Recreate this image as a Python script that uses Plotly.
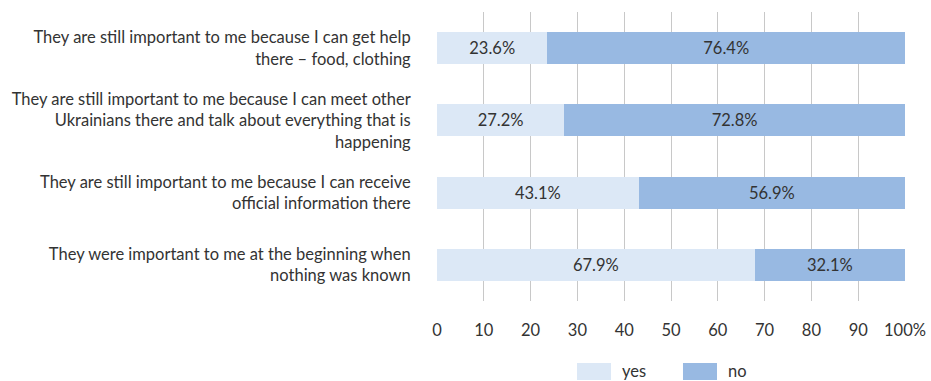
import plotly.graph_objects as go

# Survey statements (top to bottom) and the share answering yes / no
statements = [
    "They are still important to me because I can get help<br>there – food, clothing",
    "They are still important to me because I can meet other<br>Ukrainians there and talk about everything that is<br>happening",
    "They are still important to me because I can receive<br>official information there",
    "They were important to me at the beginning when<br>nothing was known",
]
yes_pct = [23.6, 27.2, 43.1, 67.9]
no_pct = [76.4, 72.8, 56.9, 32.1]

tick_vals = [0, 10, 20, 30, 40, 50, 60, 70, 80, 90, 100]
tick_text = ["0", "10", "20", "30", "40", "50", "60", "70", "80", "90", "100%"]

YES_COLOR = "#dce8f6"
NO_COLOR = "#98b9e2"
TEXT_COLOR = "#333333"
FONT = "Lato, 'Open Sans', sans-serif"
FSIZE = 16.5

fig = go.Figure()
series = [("yes", yes_pct, YES_COLOR), ("no", no_pct, NO_COLOR)]
for name, vals, color in series:
    fig.add_trace(go.Bar(
        name=name, y=statements, x=vals, orientation="h",
        marker=dict(color=color, line=dict(width=0)),
        text=[f"{v:.1f}%" for v in vals], textposition="inside",
        insidetextanchor="middle", textangle=0,
        textfont=dict(size=FSIZE, color=TEXT_COLOR, family=FONT),
        showlegend=False,
    ))

# Legend drawn as wide swatches with labels below the axis
legend_items = [
    (series[0][0], series[0][2], 0.2991, 0.3718),
    (series[1][0], series[1][2], 0.5256, 0.5983),
]
shapes = []
annotations = []
for name, color, x0, x1 in legend_items:
    shapes.append(dict(
        type="rect", xref="paper", yref="paper",
        x0=x0, x1=x1, y0=-0.2734, y1=-0.2145,
        fillcolor=color, line=dict(width=0), layer="above",
    ))
    annotations.append(dict(
        xref="paper", yref="paper", x=x1 + 0.019, y=-0.2422,
        xanchor="left", yanchor="middle", text=name, showarrow=False,
        font=dict(size=FSIZE, color=TEXT_COLOR, family=FONT),
    ))

fig.update_layout(
    barmode="stack",
    bargap=0.56,
    width=931, height=381,
    margin=dict(l=437, r=26, t=12, b=80),
    paper_bgcolor="white", plot_bgcolor="white",
    font=dict(family=FONT, size=FSIZE, color=TEXT_COLOR),
    uniformtext=dict(mode="show", minsize=10),
    showlegend=False,
    shapes=shapes,
    annotations=annotations,
    xaxis=dict(
        range=[0, 100], tickvals=tick_vals, ticktext=tick_text,
        showgrid=True, gridcolor="#c8c8c8", gridwidth=1,
        zeroline=False, showline=False,
        ticks="outside", ticklen=14, tickcolor="rgba(0,0,0,0)",
        tickfont=dict(size=FSIZE, color=TEXT_COLOR),
        automargin=False, fixedrange=True,
    ),
    yaxis=dict(
        categoryorder="array", categoryarray=statements[::-1],
        showgrid=False, zeroline=False, showline=False,
        ticks="outside", ticklen=22, tickcolor="rgba(0,0,0,0)",
        tickfont=dict(size=FSIZE, color=TEXT_COLOR),
        automargin=False, fixedrange=True,
    ),
)

fig.write_html("out.html")
